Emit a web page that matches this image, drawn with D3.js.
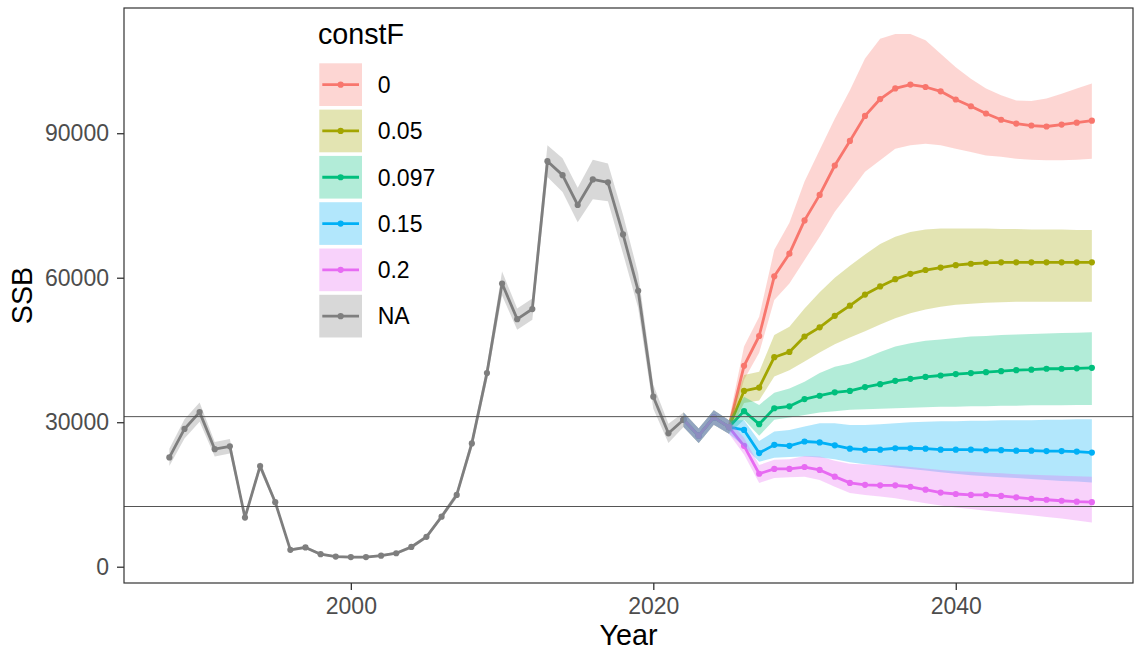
<!DOCTYPE html>
<html>
<head>
<meta charset="utf-8">
<script src="https://cdn.jsdelivr.net/npm/d3@7"></script>
<style>
  body { margin: 0; background: #fff; }
  svg { display: block; font-family: "Liberation Sans", Arial, sans-serif; }
</style>
</head>
<body>
<svg id="chart" width="1135" height="652"></svg>
<script>
// historical assessment (constF = NA)
const histYears = [1988, 1989, 1990, 1991, 1992, 1993, 1994, 1995, 1996, 1997, 1998, 1999,
  2000, 2001, 2002, 2003, 2004, 2005, 2006, 2007, 2008, 2009, 2010, 2011, 2012, 2013,
  2014, 2015, 2016, 2017, 2018, 2019, 2020, 2021, 2022]
const histSSB = [22700, 28600, 32100, 24400, 25000, 10200, 20900, 13400, 3500, 4000, 2600, 2100,
  2000, 2000, 2300, 2800, 4100, 6200, 10400, 14900, 25600, 40200, 58800, 51400, 53500, 84200,
  81300, 75100, 80400, 79800, 69000, 57300, 35300, 27700, 30500]
const histLo = [20900, 26600, 30100, 22900, 23500, 9600, 20000, 12800, 3200, 3700, 2350, 1850,
  1750, 1750, 2050, 2500, 3750, 5800, 9900, 14200, 24500, 38700, 56300, 49200, 51300, 80900,
  77800, 71500, 76300, 75900, 65000, 53700, 32800, 25700, 29000]
const histHi = [24500, 30600, 34100, 25900, 26500, 10800, 21800, 14000, 3800, 4300, 2850, 2350,
  2250, 2250, 2550, 3100, 4450, 6600, 10900, 15600, 26700, 41700, 61300, 53600, 55700, 87500,
  84800, 78700, 84500, 83700, 73000, 60900, 37800, 29700, 32000]

// projection years; 2022-2025 are common to every scenario
const projYears = [2022, 2023, 2024, 2025, 2026, 2027, 2028, 2029, 2030, 2031, 2032, 2033, 2034,
  2035, 2036, 2037, 2038, 2039, 2040, 2041, 2042, 2043, 2044, 2045, 2046, 2047, 2048, 2049]
const sharedSSB = [30500, 27200, 31000, 29000]
const sharedLo = [29000, 25700, 29500, 27600]
const sharedHi = [32000, 28700, 32500, 30400]

// 2026-2049 per scenario
const f0SSB = [41700, 47900, 60300, 65000, 71900, 77200, 83300, 88400, 93600, 97100, 99300, 100100,
  99600, 98700, 97000, 95600, 94100, 92800, 92000, 91600, 91400, 91800, 92200, 92600]
const f0Hi = [45700, 51900, 65800, 71400, 80000, 86500, 93000, 98900, 105500, 109600, 110600, 110600,
  109300, 106500, 103700, 101300, 99300, 97900, 96800, 96700, 97200, 98200, 99300, 100300]
const f0Lo = [38800, 44400, 55400, 58800, 63700, 68500, 73700, 77800, 82000, 84400, 86800, 87500,
  87800, 87500, 86800, 86100, 85400, 85100, 84700, 84500, 84400, 84400, 84500, 84700]

const f005SSB = [36500, 37200, 43500, 44600, 47800, 49700, 52100, 54200, 56500, 58200, 59700, 60800,
  61600, 62100, 62600, 62900, 63100, 63200, 63200, 63200, 63200, 63200, 63200, 63200]
const f005Hi = [39800, 40500, 48100, 49800, 53600, 57000, 60000, 62500, 64800, 67000, 68500, 69500,
  70000, 70200, 70200, 70200, 70200, 70100, 70100, 70000, 70000, 70000, 69900, 69900]
const f005Lo = [34000, 34500, 39500, 40800, 42600, 44500, 46200, 47600, 48900, 50300, 51600, 52600,
  53400, 54000, 54400, 54600, 54800, 54900, 55000, 55000, 55000, 55000, 55000, 55000]

const f0097SSB = [32300, 29600, 32900, 33300, 34800, 35500, 36200, 36500, 37300, 37900, 38600, 39000,
  39400, 39700, 40000, 40200, 40400, 40600, 40800, 40900, 41100, 41100, 41200, 41300]
const f0097Hi = [35300, 33600, 36100, 37000, 38400, 40200, 41500, 42200, 43300, 44600, 45700, 46400,
  46900, 47200, 47500, 47800, 47900, 48100, 48200, 48300, 48400, 48500, 48600, 48700]
const f0097Lo = [30500, 27200, 30500, 31000, 31500, 32000, 32300, 32600, 32700, 32800, 32900, 33000,
  33100, 33200, 33200, 33300, 33300, 33400, 33400, 33500, 33500, 33500, 33600, 33600]

const f015SSB = [28400, 23600, 25300, 25100, 26000, 25800, 25200, 24500, 24300, 24300, 24600, 24600,
  24500, 24300, 24300, 24300, 24200, 24200, 24100, 24100, 24000, 24000, 23900, 23700]
const f015Hi = [30400, 26100, 28100, 28400, 29100, 29800, 29800, 29400, 29400, 29600, 29800, 30000,
  30100, 30200, 30200, 30300, 30300, 30400, 30400, 30400, 30500, 30500, 30600, 30600]
const f015Lo = [25000, 21800, 22600, 22800, 22900, 22700, 22300, 21700, 21300, 21000, 20600, 20300,
  20000, 19600, 19300, 19000, 18800, 18600, 18400, 18200, 18000, 17800, 17700, 17500]

const f02SSB = [25100, 19300, 20300, 20300, 20700, 20100, 18700, 17400, 17000, 16900, 16900, 16600,
  16000, 15400, 15100, 14900, 14900, 14700, 14400, 14100, 13900, 13700, 13500, 13400]
const f02Hi = [26800, 21100, 22200, 22300, 23000, 22900, 22000, 21400, 21200, 21100, 21000, 20700,
  20400, 20100, 19800, 19700, 19500, 19400, 19200, 19100, 19000, 18900, 18800, 18700]
const f02Lo = [23300, 17400, 18400, 18600, 18700, 18000, 16600, 15300, 14900, 14600, 14200, 13700,
  13200, 12700, 12300, 12000, 11600, 11300, 11000, 10700, 10300, 10000, 9600, 9200]

const legendLabels = ['0', '0.05', '0.097', '0.15', '0.2', 'NA']
const colors = ['#F8766D', '#A3A500', '#00BF7D', '#00B0F6', '#E76BF3', '#7F7F7F']
const refLines = [31160, 12500]
const xTicks = [2000, 2020, 2040]
const yTicks = [0, 30000, 60000, 90000]

const toRows = (years, mid, lo, hi) => years.map((yr, i) => ({ yr, v: mid[i], lo: lo[i], hi: hi[i] }))

const scenarios = [
  [f0SSB, f0Lo, f0Hi], [f005SSB, f005Lo, f005Hi], [f0097SSB, f0097Lo, f0097Hi],
  [f015SSB, f015Lo, f015Hi], [f02SSB, f02Lo, f02Hi]
].map(([m, l, h], i) => ({
  key: legendLabels[i],
  color: colors[i],
  rows: toRows(projYears, sharedSSB.concat(m), sharedLo.concat(l), sharedHi.concat(h))
}))
scenarios.push({ key: 'NA', color: colors[5], rows: toRows(histYears, histSSB, histLo, histHi) })

const svg = d3.select('#chart')
const m = { left: 124, right: 1133, top: 8, bottom: 583 }

const x = d3.scaleLinear().domain([1985, 2051.72]).range([m.left, m.right])
const y = d3.scaleLinear().domain([-3380, 116000]).range([m.bottom, m.top])

const line = d3.line().x(d => x(d.yr)).y(d => y(d.v))
const area = d3.area().x(d => x(d.yr)).y0(d => y(d.lo)).y1(d => y(d.hi))

const plot = svg.append('g')

// lines and points first, ribbons laid over them
scenarios.forEach(s => {
  plot.append('path')
    .datum(s.rows)
    .attr('d', line)
    .attr('fill', 'none')
    .attr('stroke', s.color)
    .attr('stroke-width', 2.8)
    .attr('stroke-linejoin', 'round')
  plot.selectAll(null)
    .data(s.rows)
    .join('circle')
    .attr('cx', d => x(d.yr))
    .attr('cy', d => y(d.v))
    .attr('r', 3.1)
    .attr('fill', s.color)
})
scenarios.forEach(s => {
  plot.append('path')
    .datum(s.rows)
    .attr('d', area)
    .attr('fill', s.color)
    .attr('fill-opacity', 0.3)
})

// reference points
plot.selectAll('.ref')
  .data(refLines)
  .join('line')
  .attr('class', 'ref')
  .attr('x1', m.left).attr('x2', m.right)
  .attr('y1', d => y(d)).attr('y2', d => y(d))
  .attr('stroke', '#555')
  .attr('stroke-width', 1)

// panel border
svg.append('rect')
  .attr('x', m.left).attr('y', m.top)
  .attr('width', m.right - m.left).attr('height', m.bottom - m.top)
  .attr('fill', 'none')
  .attr('stroke', '#333')
  .attr('stroke-width', 1.2)

const styleAxis = g => {
  g.select('.domain').remove()
  g.selectAll('.tick line').attr('stroke', '#333').attr('stroke-width', 1.3)
  g.selectAll('.tick text').attr('fill', '#4D4D4D').attr('font-size', 23)
    .attr('font-family', '"Liberation Sans", Arial, sans-serif')
}

svg.append('g')
  .attr('transform', `translate(0,${m.bottom})`)
  .call(d3.axisBottom(x).tickValues(xTicks).tickFormat(d3.format('d')).tickSize(7).tickPadding(8))
  .call(styleAxis)

svg.append('g')
  .attr('transform', `translate(${m.left},0)`)
  .call(d3.axisLeft(y).tickValues(yTicks).tickFormat(d3.format('d')).tickSize(7).tickPadding(8))
  .call(styleAxis)

svg.append('text')
  .attr('x', (m.left + m.right) / 2).attr('y', 645)
  .attr('text-anchor', 'middle')
  .attr('font-size', 28.7)
  .text('Year')

svg.append('text')
  .attr('transform', `translate(32,${(m.top + m.bottom) / 2}) rotate(-90)`)
  .attr('text-anchor', 'middle')
  .attr('font-size', 28.7)
  .text('SSB')

// legend
const lg = svg.append('g').attr('transform', 'translate(318,0)')
lg.append('text').attr('x', 0).attr('y', 44).attr('font-size', 28.7).text('constF')

const KEY = 42.7, STEP = 46.3, KEY_TOP = 63.3
const keys = lg.selectAll('.key')
  .data(legendLabels.map((lab, i) => ({ lab, color: colors[i] })))
  .join('g')
  .attr('class', 'key')
  .attr('transform', (d, i) => `translate(1.3,${KEY_TOP + i * STEP})`)

keys.append('rect')
  .attr('width', KEY).attr('height', KEY)
  .attr('fill', d => d.color).attr('fill-opacity', 0.3)
keys.append('line')
  .attr('x1', 3).attr('x2', KEY - 3)
  .attr('y1', KEY / 2).attr('y2', KEY / 2)
  .attr('stroke', d => d.color).attr('stroke-width', 2.8)
keys.append('circle')
  .attr('cx', KEY / 2).attr('cy', KEY / 2).attr('r', 3.1)
  .attr('fill', d => d.color)
keys.append('text')
  .attr('x', 58.4).attr('y', KEY / 2).attr('dy', '0.36em')
  .attr('font-size', 23)
  .text(d => d.lab)
</script>
</body>
</html>
